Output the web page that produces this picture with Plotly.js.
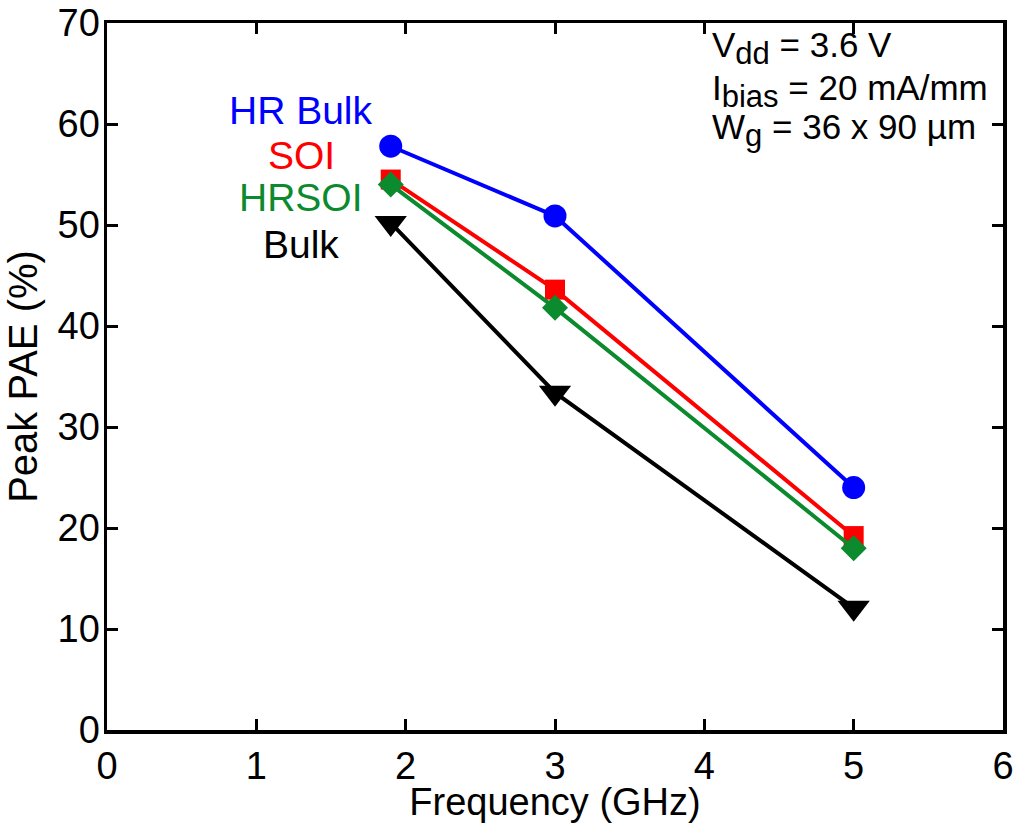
<!DOCTYPE html>
<html>
<head>
<meta charset="utf-8">
<script src="https://cdn.plot.ly/plotly-3.0.1.min.js"></script>
<style>html,body{margin:0;padding:0;background:#fff;}#chart{width:1020px;height:823px;}</style>
</head>
<body>
<div id="chart"></div>
<script>
const frequency = [1.9, 3, 5];
const hrBulk = [57.8, 50.9, 24.0];
const soi = [54.5, 43.6, 19.2];
const hrsoi = [54.0, 41.8, 18.0];
const bulk = [50.2, 33.4, 12.1];
const seriesNames = ["HR Bulk", "SOI", "HRSOI", "Bulk"];
const xTicks = [0, 1, 2, 3, 4, 5, 6];
const yTicks = [0, 10, 20, 30, 40, 50, 60, 70];

const font = "Liberation Sans, Arial, Helvetica, sans-serif";
const colors = ["#0000ff", "#ff0000", "#0b8a2e", "#000000"];
const symbols = ["circle", "square", "diamond", "triangle-down"];
const sizes = [23, 20, 20, 28];
const values = [hrBulk, soi, hrsoi, bulk];

const traces = values.map((v, i) => ({
  x: frequency, y: v, name: seriesNames[i], type: "scatter", mode: "lines+markers",
  line: {color: colors[i], width: 4},
  marker: {symbol: symbols[i], size: sizes[i], color: colors[i], line: {width: 0}},
  cliponaxis: false
}));

const labelY = [111, 155, 197, 244];
const annotations = seriesNames.map((n, i) => ({
  text: n, xref: "paper", yref: "paper",
  x: (301 - 107) / 896, y: 1 - (labelY[i] - 23) / 707,
  xanchor: "center", yanchor: "middle", showarrow: false,
  font: {family: font, size: 39, color: colors[i]}
}));
const infoLines = [
  "V<sub><span style=\"font-size:31px\">dd</span></sub> = 3.6 V",
  "I<sub><span style=\"font-size:31px\">bias</span></sub> = 20 mA/mm",
  "W<sub><span style=\"font-size:31px\">g</span></sub> = 36 x 90 \u00b5m"
];
const infoY = [48, 91, 130];
infoLines.forEach((t, i) => annotations.push({
  text: t, xref: "paper", yref: "paper",
  x: (710 - 107) / 896, y: 1 - (infoY[i] - 23) / 707,
  xanchor: "left", yanchor: "middle", showarrow: false,
  font: {family: font, size: 35, color: "#000"}
}));

const axisCommon = {
  showgrid: false, zeroline: false, showline: true, linecolor: "#000", linewidth: 3.5,
  mirror: "ticks", ticks: "inside", ticklen: 11, tickwidth: 3, tickcolor: "#000",
  tickfont: {family: font, size: 38, color: "#000"}
};

const layout = {
  width: 1020, height: 823,
  margin: {l: 107, r: 17, t: 23, b: 93},
  paper_bgcolor: "#fff", plot_bgcolor: "#fff",
  showlegend: false,
  xaxis: Object.assign({}, axisCommon, {
    range: [0, 6], tickvals: xTicks, ticktext: xTicks.map(String),
    title: {text: "Frequency (GHz)", font: {family: font, size: 38, color: "#000"}, standoff: 6}
  }),
  yaxis: Object.assign({}, axisCommon, {
    range: [0, 70], tickvals: yTicks, ticktext: yTicks.map(String), ticklabelstandoff: -4,
    title: {text: "Peak PAE (%)", font: {family: font, size: 40, color: "#000"}, standoff: 8}
  }),
  annotations: annotations
};

Plotly.newPlot("chart", traces, layout, {staticPlot: true});
</script>
</body>
</html>
